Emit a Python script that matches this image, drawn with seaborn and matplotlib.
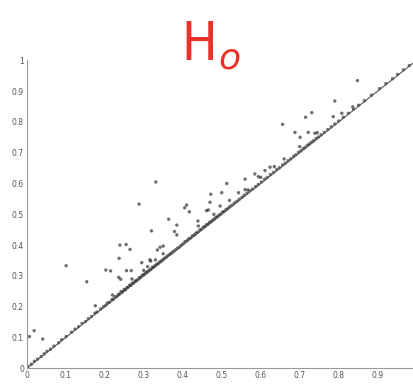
import matplotlib
matplotlib.use("Agg")
import matplotlib.pyplot as plt
import seaborn as sns
import pandas as pd

# p-values under the null hypothesis: observed (y) vs. expected (x)
near_x = [0.003, 0.012, 0.020, 0.028, 0.037, 0.045, 0.052, 0.061, 0.070, 0.082, 0.090, 0.101,
          0.115, 0.124, 0.133, 0.142, 0.151, 0.158, 0.166, 0.175, 0.181, 0.190, 0.197,
          0.203, 0.207, 0.212, 0.218, 0.222, 0.226, 0.231, 0.235, 0.238, 0.242, 0.246, 0.250,
          0.253, 0.257, 0.260, 0.264, 0.267, 0.271, 0.274, 0.278, 0.281, 0.285, 0.289, 0.292,
          0.296, 0.300, 0.303, 0.307, 0.310, 0.314, 0.318, 0.322, 0.325, 0.329, 0.333, 0.337,
          0.341, 0.345, 0.349, 0.353, 0.358, 0.362, 0.367, 0.371, 0.376, 0.381, 0.386, 0.391,
          0.396, 0.401, 0.406, 0.411, 0.415, 0.420, 0.425, 0.430, 0.434, 0.439, 0.444, 0.448,
          0.453, 0.457, 0.461, 0.465, 0.469, 0.473, 0.477, 0.481, 0.485, 0.489, 0.493, 0.497,
          0.502, 0.506, 0.511, 0.516, 0.521, 0.527, 0.533, 0.539, 0.545, 0.552, 0.558, 0.565,
          0.572, 0.579, 0.587, 0.594, 0.602, 0.610, 0.617, 0.625, 0.633, 0.641, 0.648, 0.656,
          0.663, 0.670, 0.677, 0.684, 0.690, 0.697, 0.703, 0.709, 0.714, 0.720, 0.725, 0.730,
          0.736, 0.742, 0.748, 0.755, 0.763, 0.772, 0.781, 0.790, 0.800, 0.812, 0.825, 0.838,
          0.851, 0.866, 0.884, 0.905, 0.921, 0.938, 0.951, 0.966, 0.981]
near_y = [0.005, 0.013, 0.023, 0.030, 0.038, 0.047, 0.055, 0.062, 0.072, 0.083, 0.093, 0.103,
          0.117, 0.127, 0.135, 0.146, 0.152, 0.161, 0.168, 0.179, 0.183, 0.193, 0.200,
          0.205, 0.212, 0.214, 0.222, 0.224, 0.232, 0.233, 0.239, 0.241, 0.249, 0.248, 0.256,
          0.255, 0.262, 0.263, 0.270, 0.269, 0.276, 0.277, 0.283, 0.284, 0.288, 0.294, 0.295,
          0.302, 0.303, 0.307, 0.312, 0.313, 0.318, 0.321, 0.327, 0.328, 0.333, 0.337, 0.340,
          0.345, 0.348, 0.352, 0.357, 0.361, 0.366, 0.370, 0.374, 0.379, 0.384, 0.389, 0.393,
          0.399, 0.404, 0.411, 0.414, 0.420, 0.423, 0.430, 0.433, 0.439, 0.442, 0.449, 0.451,
          0.458, 0.460, 0.466, 0.468, 0.474, 0.476, 0.481, 0.484, 0.490, 0.492, 0.497, 0.500,
          0.507, 0.509, 0.515, 0.519, 0.525, 0.530, 0.537, 0.542, 0.549, 0.555, 0.562, 0.568,
          0.576, 0.582, 0.590, 0.597, 0.605, 0.614, 0.620, 0.629, 0.636, 0.645, 0.651, 0.660,
          0.666, 0.674, 0.680, 0.688, 0.693, 0.701, 0.706, 0.713, 0.717, 0.724, 0.728, 0.734,
          0.739, 0.746, 0.751, 0.758, 0.766, 0.775, 0.784, 0.793, 0.803, 0.815, 0.828, 0.841,
          0.854, 0.869, 0.887, 0.908, 0.924, 0.940, 0.954, 0.969, 0.983]

far_x = [0.007, 0.019, 0.041, 0.101, 0.154, 0.176, 0.239, 0.255, 0.265, 0.237, 0.203, 0.215,
         0.236, 0.241, 0.256, 0.268, 0.295, 0.318, 0.331, 0.288, 0.410, 0.405, 0.417, 0.364,
         0.439, 0.385, 0.320, 0.379, 0.385, 0.335, 0.342, 0.350, 0.316, 0.466, 0.513, 0.560,
         0.585, 0.594, 0.624, 0.635, 0.611, 0.472, 0.500, 0.470, 0.543, 0.461, 0.496, 0.567,
         0.848, 0.790, 0.715, 0.731, 0.656, 0.688, 0.722, 0.701, 0.739, 0.786, 0.808, 0.836,
         0.270, 0.310, 0.350, 0.440, 0.480, 0.520, 0.560, 0.600, 0.660, 0.700, 0.745, 0.300,
         0.330, 0.220]
far_y = [0.103, 0.122, 0.095, 0.333, 0.281, 0.203, 0.400, 0.402, 0.386, 0.357, 0.319, 0.316,
         0.295, 0.289, 0.317, 0.317, 0.343, 0.348, 0.605, 0.533, 0.530, 0.521, 0.508, 0.484,
         0.478, 0.465, 0.446, 0.444, 0.433, 0.384, 0.393, 0.397, 0.352, 0.514, 0.600, 0.614,
         0.631, 0.622, 0.653, 0.655, 0.642, 0.565, 0.570, 0.539, 0.570, 0.512, 0.527, 0.579,
         0.934, 0.868, 0.815, 0.830, 0.792, 0.766, 0.766, 0.750, 0.763, 0.817, 0.828, 0.849,
         0.290, 0.330, 0.372, 0.462, 0.500, 0.545, 0.580, 0.620, 0.680, 0.720, 0.765, 0.318,
         0.352, 0.238]

line_x = [0.0, 1.0]
line_y = [0.0, 1.0]

x_ticks = [0, 0.1, 0.2, 0.3, 0.4, 0.5, 0.6, 0.7, 0.8, 0.9]
x_labels = ["0", "0.1", "0.2", "0.3", "0.4", "0.5", "0.6", "0.7", "0.8", "0.9"]
y_ticks = [0, 0.1, 0.2, 0.3, 0.4, 0.5, 0.6, 0.7, 0.8, 0.9, 1]
y_labels = ["0", "0.1", "0.2", "0.3", "0.4", "0.5", "0.6", "0.7", "0.8", "0.9", "1"]

points = pd.DataFrame({"expected": near_x + far_x, "observed": near_y + far_y})

sns.set_style("white")
fig = plt.figure(figsize=(4.14, 3.85), dpi=100)
ax = fig.add_axes([0.0645, 0.0434, 0.942, 0.80])

sns.lineplot(x=line_x, y=line_y, ax=ax, color="#555555", linewidth=0.8)
sns.scatterplot(data=points, x="expected", y="observed", ax=ax, color="#222222",
                s=6, marker="o", edgecolor="none", alpha=0.65, legend=False)

ax.set_xlim(0, 1)
ax.set_ylim(0, 1)
ax.set_xticks(x_ticks)
ax.set_xticklabels(x_labels)
ax.set_yticks(y_ticks)
ax.set_yticklabels(y_labels)
ax.set_xlabel("")
ax.set_ylabel("")
ax.tick_params(direction="in", length=2.5, width=0.6, colors="#888888",
               labelsize=5.5, labelcolor="#555555", pad=2)
for side in ("top", "right"):
    ax.spines[side].set_visible(False)
for side in ("left", "bottom"):
    ax.spines[side].set_color("#999999")
    ax.spines[side].set_linewidth(0.8)

# handwritten-style title: H with a small o
narrow = ["DejaVu Sans Condensed", "Liberation Sans Narrow", "DejaVu Sans"]
fig.text(0.438, 0.845, "H", color="#e8332a", fontsize=38, family=narrow,
         fontweight="light", fontstretch="condensed", ha="left", va="baseline")
fig.text(0.528, 0.822, "o", color="#e8332a", fontsize=26, family=narrow,
         fontweight="light", ha="left", va="baseline", style="italic")

fig.savefig("out.png", dpi=100, facecolor="white")
